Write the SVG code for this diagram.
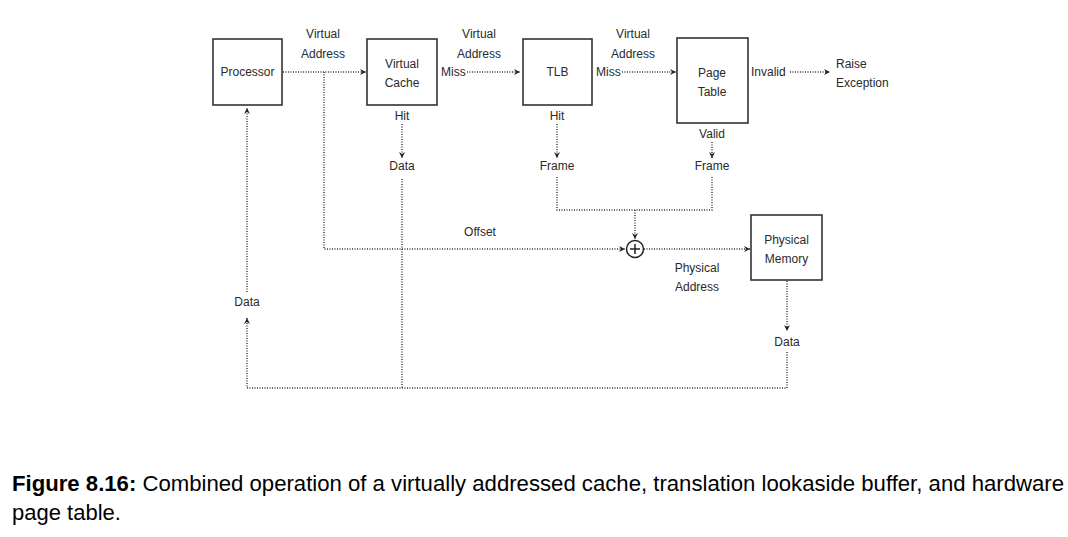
<svg xmlns="http://www.w3.org/2000/svg" width="1068" height="537" viewBox="0 0 1068 537">
<style>
.box{fill:#fff;stroke:#333;stroke-width:1.6}
.t{font-family:"Liberation Sans",Arial,sans-serif;font-size:12px;fill:#2a2a2a;text-anchor:middle}
.ts{text-anchor:start}
.c{fill:none;stroke:#333;stroke-width:1.4;stroke-dasharray:1 1.5}
.cap{font-family:"Liberation Sans",Arial,sans-serif;font-size:22px;fill:#000}
</style>
<defs>
<marker id="ah" viewBox="0 0 7 7" refX="6" refY="3.5" markerWidth="7" markerHeight="7" markerUnits="userSpaceOnUse" orient="auto">
<path d="M0,0.5 L6,3.5 L0,6.5 L2,3.5 Z" fill="#222"/>
</marker>
</defs>
<rect width="1068" height="537" fill="#fff"/>
<g id="processor"><rect class="box" x="213" y="39" width="69" height="66"/><text class="t" x="247.5" y="76">Processor</text></g>
<g id="virtual-cache"><rect class="box" x="367" y="39" width="70" height="66"/><text class="t" x="402" y="68">Virtual</text><text class="t" x="402" y="87">Cache</text></g>
<g id="tlb"><rect class="box" x="523" y="39" width="69" height="66"/><text class="t" x="557.5" y="76">TLB</text></g>
<g id="page-table"><rect class="box" x="677" y="38" width="71" height="85"/><text class="t" x="712" y="77">Page</text><text class="t" x="712" y="96">Table</text></g>
<g id="physical-memory"><rect class="box" x="751" y="215" width="71" height="65"/><text class="t" x="786.5" y="244">Physical</text><text class="t" x="786.5" y="263">Memory</text></g>
<g id="adder"><circle cx="635" cy="249" r="8.5" fill="#fff" stroke="#222" stroke-width="1.5"/><path d="M635,244 V254 M630,249 H640" stroke="#222" stroke-width="1.5"/></g>
<g id="labels">
<text class="t" x="323" y="38">Virtual</text><text class="t" x="323" y="58">Address</text>
<text class="t" x="479" y="38">Virtual</text><text class="t" x="479" y="58">Address</text>
<text class="t" x="633" y="38">Virtual</text><text class="t" x="633" y="58">Address</text>
<text class="t ts" x="441" y="76">Miss</text>
<text class="t ts" x="596" y="76">Miss</text>
<text class="t ts" x="751" y="76">Invalid</text>
<text class="t ts" x="836" y="68">Raise</text><text class="t ts" x="836" y="87">Exception</text>
<text class="t" x="402" y="120">Hit</text>
<text class="t" x="402" y="170">Data</text>
<text class="t" x="557" y="120">Hit</text>
<text class="t" x="557" y="170">Frame</text>
<text class="t" x="712" y="138">Valid</text>
<text class="t" x="712" y="170">Frame</text>
<text class="t" x="480" y="236">Offset</text>
<text class="t" x="697" y="272">Physical</text><text class="t" x="697" y="291">Address</text>
<text class="t" x="787" y="346">Data</text>
<text class="t" x="247" y="306">Data</text>
</g>
<g id="connectors">
<path class="c" d="M283,72 H366" marker-end="url(#ah)"/>
<path class="c" d="M467,72 H520" marker-end="url(#ah)"/>
<path class="c" d="M622,72 H676" marker-end="url(#ah)"/>
<path class="c" d="M790,72 H830" marker-end="url(#ah)"/>
<path class="c" d="M402,124 V158" marker-end="url(#ah)"/>
<path class="c" d="M557,124 V158" marker-end="url(#ah)"/>
<path class="c" d="M712,142 V158" marker-end="url(#ah)"/>
<path class="c" d="M557,177 V210 H712 V177"/>
<path class="c" d="M635,210 V239" marker-end="url(#ah)"/>
<path class="c" d="M324,72 V249 H625" marker-end="url(#ah)"/>
<path class="c" d="M644,249 H750" marker-end="url(#ah)"/>
<path class="c" d="M787,281 V331" marker-end="url(#ah)"/>
<path class="c" d="M402,179 V388"/>
<path class="c" d="M787,352 V388 H247 V318" marker-end="url(#ah)"/>
<path class="c" d="M247,292 V108" marker-end="url(#ah)"/>
</g>
<g id="caption">
<text class="cap" x="12" y="491" textLength="1052" lengthAdjust="spacingAndGlyphs"><tspan font-weight="bold">Figure 8.16:</tspan> Combined operation of a virtually addressed cache, translation lookaside buffer, and hardware</text>
<text class="cap" x="12" y="520">page table.</text>
</g>
</svg>
